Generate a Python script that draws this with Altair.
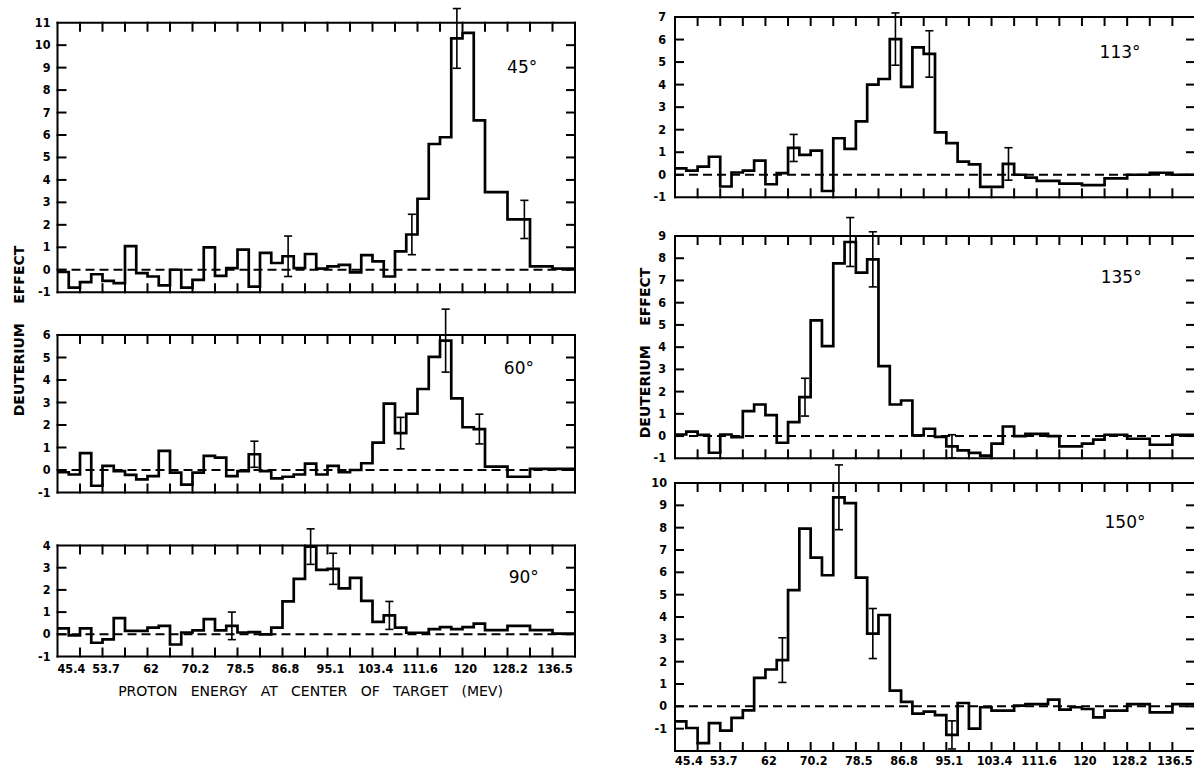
import altair as alt
import pandas as pd

# Proton energy axis: 46 equal channels starting at 45.4 MeV
E_START = 45.4
BIN_WIDTH = 2.075
N_BINS = 46
E_TICK_LABELS = [45.4, 53.7, 62, 70.2, 78.5, 86.8, 95.1, 103.4, 111.6, 120, 128.2, 136.5]

# Deuterium effect in each energy channel, one list per laboratory angle
EFFECT_45 = [-0.1, -0.8, -0.55, -0.2, -0.5, -0.6, 1.05, -0.15, -0.3, -0.7,
             0.0, -0.8, -0.45, 1.0, -0.27, 0.07, 0.9, -0.75, 0.75, 0.3,
             0.6, 0.07, 0.7, 0.05, 0.15, 0.22, -0.12, 0.65, 0.37, -0.3,
             0.82, 1.57, 3.16, 5.6, 5.9, 10.3, 10.55, 6.65, 3.46, 3.46,
             2.24, 2.24, 0.15, 0.15, 0.05, 0.05]
ERR_CH_45 = [20, 31, 35, 41]
ERR_45 = [0.9, 0.9, 1.33, 0.85]

EFFECT_60 = [-0.1, -0.2, 0.75, -0.7, 0.18, -0.05, -0.22, -0.42, -0.27, 0.85,
             -0.12, -0.65, -0.12, 0.63, 0.55, -0.27, -0.05, 0.7, -0.05, -0.37,
             -0.3, -0.2, 0.28, -0.2, 0.18, -0.1, 0.0, 0.3, 1.22, 2.95,
             1.64, 2.5, 3.6, 5.03, 5.75, 3.18, 1.9, 1.82, 0.15, 0.15,
             -0.3, -0.3, 0.05, 0.05, 0.05, 0.05]
ERR_CH_60 = [17, 30, 34, 37]
ERR_60 = [0.58, 0.7, 1.4, 0.66]

EFFECT_90 = [0.27, -0.05, 0.27, -0.38, -0.23, 0.73, 0.15, 0.15, 0.3, 0.38,
             -0.46, 0.08, 0.18, 0.68, 0.18, 0.38, 0.08, 0.1, 0.0, 0.3,
             1.48, 2.5, 3.95, 2.9, 2.95, 2.07, 2.54, 1.51, 0.56, 0.85,
             0.3, 0.07, 0.07, 0.23, 0.32, 0.23, 0.32, 0.48, 0.19, 0.19,
             0.38, 0.38, 0.19, 0.19, 0.03, 0.03]
ERR_CH_90 = [15, 22, 24, 29]
ERR_90 = [0.62, 0.8, 0.7, 0.63]

EFFECT_113 = [0.28, 0.18, 0.36, 0.8, -0.52, 0.1, 0.18, 0.63, -0.42, 0.07,
              1.19, 0.88, 1.07, -0.72, 1.62, 1.15, 2.37, 4.0, 4.25, 6.02,
              3.9, 5.65, 5.36, 1.88, 1.4, 0.58, 0.46, -0.54, -0.54, 0.48,
              0.0, -0.13, -0.27, -0.27, -0.39, -0.39, -0.46, -0.46, -0.16, -0.16,
              0.0, 0.0, 0.09, 0.09, 0.0, 0.0]
ERR_CH_113 = [10, 19, 22, 29]
ERR_113 = [0.6, 1.16, 1.03, 0.72]

EFFECT_135 = [0.07, 0.2, 0.05, -0.75, 0.07, -0.05, 1.12, 1.42, 0.94, -0.3,
              0.63, 1.75, 5.2, 4.05, 7.77, 8.73, 7.35, 7.95, 3.15, 1.42,
              1.6, 0.03, 0.33, -0.04, -0.46, -0.64, -0.76, -0.88, -0.34, 0.43,
              0.0, 0.1, 0.1, 0.0, -0.46, -0.46, -0.34, -0.16, 0.06, 0.06,
              -0.12, -0.12, -0.39, -0.39, 0.06, 0.06]
ERR_CH_135 = [11, 15, 17, 24]
ERR_135 = [0.85, 1.1, 1.24, 0.52]

EFFECT_150 = [-0.67, -0.97, -1.65, -0.75, -1.09, -0.52, -0.18, 1.27, 1.65, 2.07,
              5.2, 7.96, 6.66, 5.87, 9.36, 9.1, 5.76, 3.26, 4.09, 0.7,
              0.2, -0.33, -0.24, -0.39, -1.28, 0.15, -1.0, -0.04, -0.19, -0.19,
              0.03, 0.1, 0.1, 0.3, -0.15, -0.04, -0.12, -0.49, -0.19, -0.19,
              0.1, 0.1, -0.27, -0.27, 0.1, 0.1]
ERR_CH_150 = [9, 14, 17, 24]
ERR_150 = [1.0, 1.45, 1.12, 0.63]

W, H = 1194, 767
LABEL_FONT = "Liberation Sans Narrow, DejaVu Sans Condensed, Liberation Sans"
LABEL_SIZE = 12.5
TEXT_FONT = "DejaVu Sans"
TICK_PX = 8
NB = "\u00a0"

LEFT_X = (57.5, 575.0)
RIGHT_X = (675.0, 1195.0)


def fmt(v):
    return ("%g" % v)


def build_panel(angle, effect, err_ch, err_half, ydom, xpix, ypix, label_at,
                x_labels=False, x_label_pad=5, y_label_pad=7):
    x_lo, x_hi = E_START, E_START + N_BINS * BIN_WIDTH
    y_lo, y_hi = ydom
    xs = alt.Scale(domain=[x_lo, x_hi], range=[xpix[0], xpix[1]], nice=False, zero=False)
    ys = alt.Scale(domain=[y_lo, y_hi], range=[ypix[0], ypix[1]], nice=False, zero=False)

    def enc_xy():
        return dict(x=alt.X("x:Q", scale=xs, axis=None),
                    y=alt.Y("y:Q", scale=ys, axis=None))

    # inward tick length converted to data units
    tx = TICK_PX * (x_hi - x_lo) / (xpix[1] - xpix[0])
    ty = TICK_PX * (y_hi - y_lo) / abs(ypix[0] - ypix[1])

    edges = [x_lo + i * BIN_WIDTH for i in range(N_BINS + 1)]
    hist = pd.DataFrame({"x": edges, "y": list(effect) + [effect[-1]]})

    line = alt.Chart(hist).mark_line(
        interpolate="step-after", color="black", strokeWidth=2.7
    ).encode(**enc_xy())

    zero = alt.Chart(pd.DataFrame({"x": [x_lo], "x2": [x_hi], "y": [0.0]})).mark_rule(
        color="black", strokeWidth=2, strokeDash=[9, 5]
    ).encode(x2="x2:Q", **enc_xy())

    # frame and inward ticks on all four sides
    segs = [
        (x_lo, x_hi, y_lo, y_lo), (x_lo, x_hi, y_hi, y_hi),
        (x_lo, x_lo, y_lo, y_hi), (x_hi, x_hi, y_lo, y_hi),
    ]
    for j in range(1, N_BINS // 2):
        xv = x_lo + 2 * j * BIN_WIDTH
        segs.append((xv, xv, y_hi, y_hi - ty))
        segs.append((xv, xv, y_lo, y_lo + ty))
    for yv in range(y_lo + 1, y_hi):
        segs.append((x_lo, x_lo + tx, yv, yv))
        segs.append((x_hi - tx, x_hi, yv, yv))
    frame = alt.Chart(pd.DataFrame(segs, columns=["x", "x2", "y", "y2"])).mark_rule(
        color="black", strokeWidth=2, strokeCap="square"
    ).encode(x2="x2:Q", y2="y2:Q", **enc_xy())

    # error bars with short caps
    eb = []
    cap = 0.75
    for ch, e in zip(err_ch, err_half):
        xc = x_lo + (ch + 0.5) * BIN_WIDTH
        v = effect[ch]
        eb.append((xc, xc, v - e, v + e))
        eb.append((xc - cap, xc + cap, v - e, v - e))
        eb.append((xc - cap, xc + cap, v + e, v + e))
    err = alt.Chart(pd.DataFrame(eb, columns=["x", "x2", "y", "y2"])).mark_rule(
        color="black", strokeWidth=1.6
    ).encode(x2="x2:Q", y2="y2:Q", **enc_xy())

    angle_text = alt.Chart(
        pd.DataFrame({"x": [label_at[0]], "y": [label_at[1]], "t": [angle]})
    ).mark_text(
        font=TEXT_FONT, fontSize=17, color="black", align="center", baseline="middle"
    ).encode(text="t:N", **enc_xy())

    # value labels along the left edge
    yvals = list(range(max(y_lo, -1), y_hi + 1))
    ylab = alt.Chart(pd.DataFrame({"x": [x_lo] * len(yvals), "y": yvals,
                                   "t": [fmt(v) for v in yvals]})).mark_text(
        font=LABEL_FONT, fontSize=LABEL_SIZE, fontWeight="bold", color="black",
        align="right", baseline="middle", dx=-y_label_pad
    ).encode(text="t:N", **enc_xy())

    layers = [line, zero, frame, err, angle_text, ylab]

    if x_labels:
        # first energy label sits just inside the left edge, the rest centred
        first = alt.Chart(pd.DataFrame({"x": E_TICK_LABELS[:1], "y": [y_lo],
                                        "t": [fmt(E_TICK_LABELS[0])]})).mark_text(
            font=LABEL_FONT, fontSize=LABEL_SIZE, fontWeight="bold", color="black",
            align="left", baseline="top", dy=x_label_pad, dx=0
        ).encode(text="t:N", **enc_xy())
        rest_vals = E_TICK_LABELS[1:]
        rest = alt.Chart(pd.DataFrame({"x": rest_vals, "y": [y_lo] * len(rest_vals),
                                       "t": [fmt(v) for v in rest_vals]})).mark_text(
            font=LABEL_FONT, fontSize=LABEL_SIZE, fontWeight="bold", color="black",
            align="center", baseline="top", dy=x_label_pad, dx=3.5
        ).encode(text="t:N", **enc_xy())
        layers += [first, rest]

    return alt.layer(*layers)


panels = [
    build_panel("45°", EFFECT_45, ERR_CH_45, ERR_45, (-1, 11), LEFT_X, (292.2, 22.7),
                (131.1, 9.0)),
    build_panel("60°", EFFECT_60, ERR_CH_60, ERR_60, (-1, 6), LEFT_X, (492.5, 335.0),
                (130.5, 4.5)),
    build_panel("90°", EFFECT_90, ERR_CH_90, ERR_90, (-1, 4), LEFT_X, (656.5, 545.5),
                (131.4, 2.55), x_labels=True, x_label_pad=6),
    build_panel("113°", EFFECT_113, ERR_CH_113, ERR_113, (-1, 7), RIGHT_X, (197.3, 17.0),
                (127.1, 5.4), y_label_pad=9),
    build_panel("135°", EFFECT_135, ERR_CH_135, ERR_135, (-1, 9), RIGHT_X, (458.3, 236.0),
                (127.3, 7.1), y_label_pad=9),
    build_panel("150°", EFFECT_150, ERR_CH_150, ERR_150, (-2, 10), RIGHT_X, (751.0, 483.0),
                (128.0, 8.2), y_label_pad=8, x_labels=True, x_label_pad=4),
]

# shared axis titles
y_titles = alt.Chart(pd.DataFrame({
    "t": ["DEUTERIUM" + NB * 4 + "EFFECT", "DEUTERIUM" + NB * 4 + "EFFECT"],
    "px": [20, 646],
    "py": [331, 353],
})).mark_text(
    font=TEXT_FONT, fontSize=14, fontWeight="bold", color="black",
    align="center", baseline="middle", angle=270
).encode(
    x=alt.X("px:Q", scale=None, axis=None),
    y=alt.Y("py:Q", scale=None, axis=None),
    text="t:N",
)

x_title = alt.Chart(pd.DataFrame({
    "t": [(NB * 3).join(["PROTON", "ENERGY", "AT", "CENTER", "OF", "TARGET", "(MEV)"])],
    "px": [310.5],
    "py": [692],
})).mark_text(
    font=TEXT_FONT, fontSize=14, color="black", align="center", baseline="middle"
).encode(
    x=alt.X("px:Q", scale=None, axis=None),
    y=alt.Y("py:Q", scale=None, axis=None),
    text="t:N",
)

chart = alt.layer(*panels, y_titles, x_title).resolve_scale(
    x="independent", y="independent"
).properties(
    width=W, height=H, padding=0, background="white",
    autosize=alt.AutoSizeParams(type="none"),
).configure_view(stroke="transparent")

chart.save("out.html", embed_options={"renderer": "svg", "actions": False})
